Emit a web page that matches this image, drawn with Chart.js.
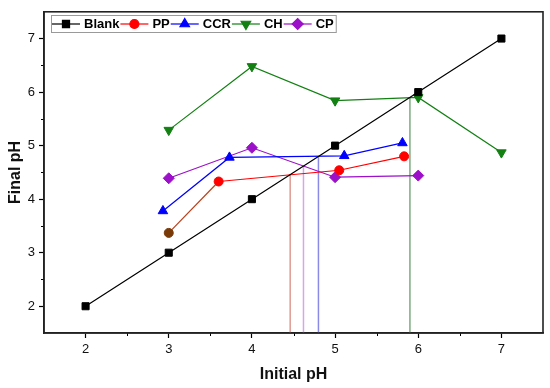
<!DOCTYPE html>
<html>
<head>
<meta charset="utf-8">
<script src="https://cdn.jsdelivr.net/npm/chart.js@4"></script>
<style>
  body { margin: 0; background: #fff; }
  #wrap { width: 550px; height: 388px; }
</style>
</head>
<body>
<div id="wrap"><canvas id="grafico" width="550" height="388"></canvas></div>
<script>
// dados
const blankX = [2, 3, 4, 5, 6, 7];
const blankY = [2, 3, 4, 5, 6, 7];
const ppX = [3, 3.6, 5.05, 5.83];
const ppY = [3.37, 4.33, 4.54, 4.8];
const ccrX = [2.93, 3.73, 5.11, 5.81];
const ccrY = [3.78, 4.78, 4.81, 5.05];
const chX = [3, 4, 5, 6, 7];
const chY = [5.29, 6.48, 5.84, 5.9, 4.87];
const cpX = [3, 4, 5, 6];
const cpY = [4.39, 4.96, 4.41, 4.44];
// pH de ponto de carga zero (linhas verticais): PP, CP, CCR, CH
const pzcLabels = ['PP', 'CP', 'CCR', 'CH'];
const pzcValues = [4.46, 4.62, 4.80, 5.90];
const tickValues = [2, 3, 4, 5, 6, 7];

const FONTE = '"Liberation Sans", Arial, sans-serif';
const pares = (xs, ys) => xs.map((x, i) => ({ x: x, y: ys[i] }));

const series = [
    { label: 'Blank', x: blankX, y: blankY, color: '#000000', style: 'rect', radius: 5, rot: 0 },
    { label: 'PP', x: ppX, y: ppY, color: '#ff0000', style: 'circle', radius: 4.5, rot: 0 },
    { label: 'CCR', x: ccrX, y: ccrY, color: '#0000ff', style: 'triangle', radius: 5.5, rot: 0 },
    { label: 'CH', x: chX, y: chY, color: '#128012', style: 'triangle', radius: 5.5, rot: 180 },
    { label: 'CP', x: cpX, y: cpY, color: '#9b10c8', style: 'rectRot', radius: 5.5, rot: 0 }
];
const pzcColors = { PP: '#e09a90', CP: '#d2a8ea', CCR: '#8a8ae6', CH: '#7eaa7e' };

const datasets = series.map(s => ({
    label: s.label,
    data: pares(s.x, s.y),
    showLine: true,
    borderColor: s.color,
    backgroundColor: s.color,
    borderWidth: 1.2,
    pointStyle: s.style,
    pointRotation: s.rot,
    pointRadius: s.radius,
    pointHoverRadius: s.radius,
    pointBorderWidth: 1,
    pointBackgroundColor: s.label === 'PP' ? s.x.map((v, i) => i === 0 ? '#7a3a08' : s.color) : s.color,
    pointBorderColor: s.label === 'PP' ? s.x.map((v, i) => i === 0 ? '#7a3a08' : s.color) : s.color,
    segment: s.label === 'PP' ? { borderColor: c => c.p0DataIndex === 0 ? '#b8401c' : undefined } : undefined
}));

pzcValues.forEach((v, i) => {
    datasets.push({
        label: 'pzc ' + pzcLabels[i],
        data: [{ x: v, y: 1.5 }, { x: v, y: v }],
        showLine: true,
        borderColor: pzcColors[pzcLabels[i]],
        borderWidth: 1.5,
        pointRadius: 0,
        pointHoverRadius: 0
    });
});

// ticks menores, moldura e legenda desenhados à mão
const extras = {
    id: 'extras',
    afterDraw(chart) {
        const ctx = chart.ctx;
        const a = chart.chartArea;
        const sx = chart.scales.x, sy = chart.scales.y;
        ctx.save();
        ctx.strokeStyle = '#000';
        ctx.lineWidth = 1;
        for (let v = 2.5; v < 7.5; v += 1) {
            const px = Math.round(sx.getPixelForValue(v)) + 0.5;
            ctx.beginPath(); ctx.moveTo(px, a.bottom); ctx.lineTo(px, a.bottom + 3); ctx.stroke();
            const py = Math.round(sy.getPixelForValue(v)) + 0.5;
            ctx.beginPath(); ctx.moveTo(a.left, py); ctx.lineTo(a.left - 3, py); ctx.stroke();
        }
        ctx.lineWidth = 1.6;
        ctx.strokeStyle = '#222';
        ctx.strokeRect(a.left, a.top, a.right - a.left, a.bottom - a.top);

        // legenda
        const lx = 51, ly = 15, lh = 17;
        ctx.font = 'bold 13px ' + FONTE;
        let x = lx + 1;
        const itens = series.map(s => {
            const item = { s: s, x0: x };
            x += 28 + 4 + ctx.measureText(s.label).width + 1;
            return item;
        });
        ctx.fillStyle = '#fff';
        ctx.fillRect(lx, ly, x - lx + 1, lh);
        ctx.strokeStyle = '#9a9a9a';
        ctx.lineWidth = 1;
        ctx.strokeRect(lx + 0.5, ly + 0.5, x - lx + 1, lh);
        const cy = ly + lh / 2 + 0.5;
        itens.forEach(it => {
            const s = it.s;
            ctx.strokeStyle = s.color;
            ctx.lineWidth = 1.2;
            ctx.beginPath(); ctx.moveTo(it.x0, cy); ctx.lineTo(it.x0 + 28, cy); ctx.stroke();
            ctx.fillStyle = s.color;
            Chart.helpers.drawPoint(ctx, { pointStyle: s.style, rotation: s.rot, radius: s.radius, borderWidth: 1 }, it.x0 + 14, cy);
            ctx.fillStyle = '#000';
            ctx.textBaseline = 'middle';
            ctx.textAlign = 'left';
            ctx.fillText(s.label, it.x0 + 32, cy);
        });
        ctx.restore();
    }
};

const eixo = (titulo, fitFn, padTitulo) => ({
    type: 'linear',
    min: 1.5,
    max: 7.5,
    afterBuildTicks: scale => { scale.ticks = tickValues.map(v => ({ value: v })); },
    afterFit: fitFn,
    ticks: {
        autoSkip: false,
        padding: 4,
        color: '#111',
        font: { family: FONTE, size: 13 },
        callback: v => String(v)
    },
    grid: {
        display: true,
        drawOnChartArea: false,
        drawTicks: true,
        tickLength: 5,
        tickColor: '#000',
        tickWidth: 1.2
    },
    border: { display: true, color: '#222', width: 1.6 },
    title: {
        display: true,
        text: titulo,
        color: '#111',
        font: { family: FONTE, size: 16, weight: 'bold' },
        padding: padTitulo
    }
});

const ctxGrafico = document.getElementById('grafico').getContext('2d');
new Chart(ctxGrafico, {
    type: 'scatter',
    data: { datasets: datasets },
    options: {
        responsive: false,
        animation: false,
        layout: { padding: { top: 7, right: 7, left: 0, bottom: 0 } },
        scales: {
            x: eixo('Initial pH', s => { s.height = 55; }, { top: 2, bottom: 4 }),
            y: eixo('Final pH', s => { s.width = 44; }, { top: 6, bottom: 2 })
        },
        plugins: {
            legend: { display: false },
            tooltip: { enabled: false }
        }
    },
    plugins: [extras]
});
</script>
</body>
</html>
